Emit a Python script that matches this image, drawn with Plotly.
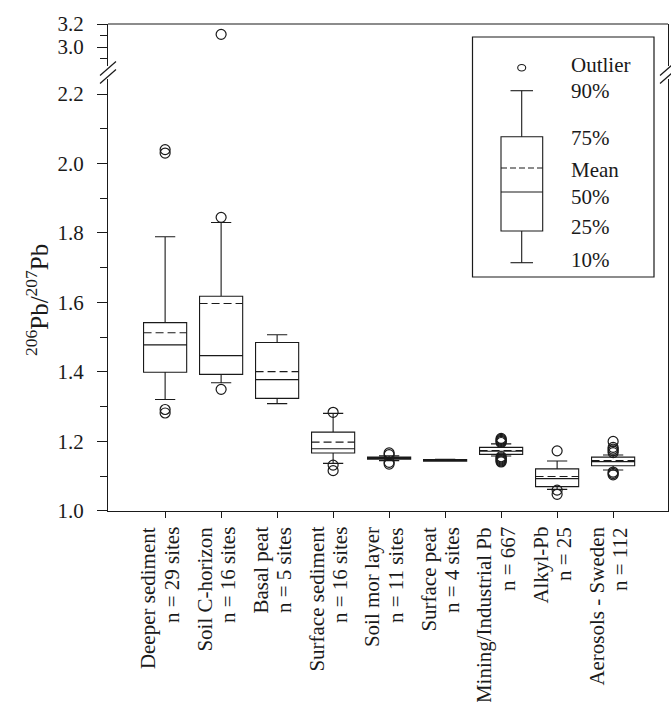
import plotly.graph_objects as go

# ---------------- data ----------------
category_names = [
    "Deeper sediment", "Soil C-horizon", "Basal peat", "Surface sediment",
    "Soil mor layer", "Surface peat", "Mining/Industrial Pb", "Alkyl-Pb",
    "Aerosols - Sweden",
]
category_n = [
    "n = 29 sites", "n = 16 sites", "n = 5 sites", "n = 16 sites",
    "n = 11 sites", "n = 4 sites", "n = 667", "n = 25", "n = 112",
]
p10    = [1.321, 1.369, 1.309, 1.137, 1.145, 1.1430, 1.158, 1.062, 1.118]
q1     = [1.399, 1.393, 1.324, 1.167, 1.149, 1.1435, 1.163, 1.070, 1.130]
median = [1.478, 1.447, 1.378, 1.179, 1.152, 1.1455, 1.172, 1.093, 1.142]
mean   = [1.513, 1.597, 1.401, 1.198, 1.153, 1.1460, 1.174, 1.099, 1.145]
q3     = [1.542, 1.618, 1.485, 1.227, 1.155, 1.1480, 1.183, 1.121, 1.155]
p90    = [1.789, 1.830, 1.507, 1.281, 1.159, 1.1485, 1.193, 1.144, 1.161]
outliers = [
    [2.030, 2.040, 1.282, 1.292],
    [1.845, 1.350],
    [],
    [1.284, 1.132, 1.116],
    [1.167, 1.162, 1.140, 1.135],
    [],
    [1.197, 1.200, 1.203, 1.206, 1.209, 1.156, 1.153, 1.150, 1.147, 1.144, 1.141],
    [1.173, 1.060, 1.048],
    [1.200, 1.183, 1.178, 1.173, 1.168, 1.112, 1.108, 1.104],
]
outliers_upper = [[], [3.11], [], [], [], [], [], [], []]

legend_labels = ["Outlier", "90%", "75%", "Mean", "50%", "25%", "10%"]

# ---------------- layout geometry ----------------
W, H = 671, 702
L, R, T, B = 108, 3, 24, 191
plot_w = W - L - R
plot_h = H - T - B
FONT = "Liberation Serif"
INK = "#1a1a1a"
BOX_W = 0.77

def px2x(px):
    return (px - L) / plot_w

def px2y(py):
    return (H - B - py) / plot_h

brk_top_px, brk_bot_px = 66, 79
upper_dom = [px2y(brk_top_px), 1]
lower_dom = [0, px2y(brk_bot_px)]
lower_scale = 347.5   # px per unit
upper_scale = 115.0
lower_range = [0.9999, 1.0 + (H - B - brk_bot_px) / lower_scale]
upper_range = [3.2 - (brk_top_px - T) / upper_scale, 3.2001]

fig = go.Figure()
xs = list(range(len(category_names)))
for i in xs:
    fig.add_trace(go.Box(
        x=[i], q1=[q1[i]], median=[median[i]], q3=[q3[i]],
        lowerfence=[p10[i]], upperfence=[p90[i]],
        boxpoints=False, width=BOX_W, whiskerwidth=0.47,
        line=dict(color=INK, width=1.1), fillcolor="rgba(0,0,0,0)",
        showlegend=False, hoverinfo="skip",
    ))

# dashed mean lines across each box
mx, my = [], []
for i in xs:
    mx += [i - BOX_W / 2, i + BOX_W / 2, None]
    my += [mean[i], mean[i], None]
fig.add_trace(go.Scatter(x=mx, y=my, mode="lines", showlegend=False, hoverinfo="skip",
                         line=dict(color=INK, width=1.1, dash="8px,4px")))

ox, oy = [], []
for i, vals in enumerate(outliers):
    for v in vals:
        ox.append(i); oy.append(v)
fig.add_trace(go.Scatter(x=ox, y=oy, mode="markers", showlegend=False,
                         marker=dict(symbol="circle-open", size=10, color=INK,
                                     line=dict(width=1.2, color=INK))))
ux, uy = [], []
for i, vals in enumerate(outliers_upper):
    for v in vals:
        ux.append(i); uy.append(v)
fig.add_trace(go.Scatter(x=ux, y=uy, mode="markers", yaxis="y2", showlegend=False,
                         marker=dict(symbol="circle-open", size=10, color=INK,
                                     line=dict(width=1.2, color=INK))))

axis_common = dict(showline=True, linecolor=INK, linewidth=1.2, ticks="outside",
                   tickcolor=INK, ticklen=10, tickwidth=1.2, showgrid=False, zeroline=False,
                   tickfont=dict(family=FONT, size=21, color=INK), tickformat=".1f",
                   mirror=True, ticklabelstandoff=9)

fig.update_layout(
    width=W, height=H, margin=dict(l=L, r=R, t=T, b=B),
    paper_bgcolor="white", plot_bgcolor="white",
    xaxis=dict(range=[-1.02, 8.98], tickmode="array", tickvals=xs,
               ticktext=[""] * len(xs), showline=True, linecolor=INK, linewidth=1.2,
               ticks="outside", ticklen=6, tickcolor=INK, tickwidth=1.2,
               showgrid=False, zeroline=False, anchor="y"),
    yaxis=dict(domain=lower_dom, range=lower_range, tick0=1.0, dtick=0.2,
               minor=dict(dtick=0.1, tick0=1.0, ticks="outside", ticklen=7,
                          tickcolor=INK, tickwidth=1.2),
               anchor="x", **axis_common),
    yaxis2=dict(domain=upper_dom, range=upper_range, tick0=3.0, dtick=0.2,
                minor=dict(dtick=0.1, tick0=3.0, ticks="outside", ticklen=7,
                           tickcolor=INK, tickwidth=1.2),
                anchor="x", **axis_common),
    font=dict(family=FONT, color=INK),
)

shapes = []
# top border
shapes.append(dict(type="line", xref="paper", yref="paper", x0=0, x1=1, y0=1, y1=1,
                   line=dict(color=INK, width=1.2)))
# break marks (left and right)
for cx in (L, L + plot_w):
    for dy in (-4, 4):
        cy = (brk_top_px + brk_bot_px) / 2 + dy
        shapes.append(dict(type="line", xref="paper", yref="paper",
                           x0=px2x(cx - 8), y0=px2y(cy + 7), x1=px2x(cx + 8), y1=px2y(cy - 7),
                           line=dict(color=INK, width=1.2)))
# legend key frame
shapes.append(dict(type="rect", xref="paper", yref="paper",
                   x0=px2x(472.5), x1=px2x(654), y0=px2y(277), y1=px2y(37),
                   line=dict(color=INK, width=1.2)))
kx = 521.7
shapes.append(dict(type="rect", xref="paper", yref="paper",
                   x0=px2x(501), x1=px2x(542.7), y0=px2y(231), y1=px2y(136.7),
                   line=dict(color=INK, width=1.1)))
shapes.append(dict(type="line", xref="paper", yref="paper", x0=px2x(501), x1=px2x(542.7),
                   y0=px2y(192), y1=px2y(192), line=dict(color=INK, width=1.1)))
shapes.append(dict(type="line", xref="paper", yref="paper", x0=px2x(501), x1=px2x(542.7),
                   y0=px2y(168), y1=px2y(168), line=dict(color=INK, width=1.1, dash="6px,3px")))
for y_a, y_b in ((136.7, 90.7), (231, 262.7)):
    shapes.append(dict(type="line", xref="paper", yref="paper", x0=px2x(kx), x1=px2x(kx),
                       y0=px2y(y_a), y1=px2y(y_b), line=dict(color=INK, width=1.1)))
for yc in (90.7, 262.7):
    shapes.append(dict(type="line", xref="paper", yref="paper", x0=px2x(510.5), x1=px2x(533),
                       y0=px2y(yc), y1=px2y(yc), line=dict(color=INK, width=1.1)))
shapes.append(dict(type="circle", xref="paper", yref="paper",
                   x0=px2x(kx - 4), x1=px2x(kx + 4), y0=px2y(71), y1=px2y(64.5),
                   line=dict(color=INK, width=1.1)))
fig.update_layout(shapes=shapes)

annots = []
label_y = [65, 91, 138, 170, 197, 227, 260]
for txt, yy in zip(legend_labels, label_y):
    annots.append(dict(xref="paper", yref="paper", x=px2x(569), y=px2y(yy), text=txt,
                       showarrow=False, xanchor="left", yanchor="middle",
                       font=dict(family=FONT, size=21, color=INK)))
# category labels (two rotated lines each, top-aligned under the axis)
for i in xs:
    for txt, shift in ((category_names[i], -17), (category_n[i], 7)):
        annots.append(dict(xref="x", yref="paper", x=i, y=px2y(525), text=txt,
                           textangle=-90, showarrow=False, xanchor="center",
                           yanchor="top", xshift=shift,
                           font=dict(family=FONT, size=21, color=INK)))
annots.append(dict(xref="paper", yref="paper", x=px2x(37), y=px2y(300),
                   text="<sup>206</sup>Pb/<sup>207</sup>Pb", textangle=-90,
                   showarrow=False, xanchor="center", yanchor="middle",
                   font=dict(family=FONT, size=25, color=INK)))
fig.update_layout(annotations=annots)

fig.write_html("out.html")
